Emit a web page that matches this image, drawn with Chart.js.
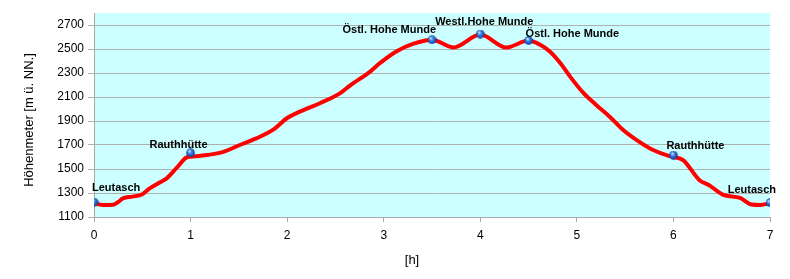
<!DOCTYPE html>
<html>
<head>
<meta charset="utf-8">
<script src="https://cdn.jsdelivr.net/npm/chart.js@4"></script>
<style>
    body {
        margin: 0;
        background: #ffffff;
    }
</style>
</head>
<body>
<canvas id="profileChart" width="790" height="279"></canvas>
<script>
// walking time [h] and elevation [m]
const hours = [
    0, 0.1, 0.2, 0.25, 0.3, 0.4, 0.5, 0.58, 0.68, 0.75, 0.86, 0.96, 1.0,
    1.17, 1.34, 1.51, 1.68, 1.86, 2.0, 2.13, 2.34, 2.55, 2.65, 2.86, 2.96,
    3.13, 3.31, 3.5, 3.72, 4.0, 4.27, 4.5, 4.62, 4.72, 4.83, 4.93, 5.07,
    5.2, 5.34, 5.48, 5.62, 5.79, 5.96, 6.0, 6.1, 6.27, 6.37, 6.51, 6.69,
    6.81, 6.9, 7.0,
];
const elevation = [
    1212, 1200, 1202, 1225, 1255, 1270, 1290, 1340, 1388, 1420, 1513, 1597, 1602,
    1616, 1643, 1700, 1755, 1830, 1925, 1978, 2048, 2132, 2195, 2312, 2382,
    2480, 2544, 2577, 2513, 2620, 2513, 2570, 2535, 2480, 2382, 2270, 2132,
    2034, 1936, 1825, 1741, 1658, 1607, 1600, 1574, 1407, 1365, 1287, 1259,
    1204, 1200, 1215,
];

// named stops along the route
const stationNames = [
    "Leutasch", "Rauthhütte", "Östl. Hohe Munde", "Westl.Hohe Munde",
    "Östl. Hohe Munde", "Rauthhütte", "Leutasch",
];
const stationHours = [0, 1, 3.5, 4, 4.5, 6, 7];
const stationElevation = [1225, 1635, 2577, 2625, 2571, 1616, 1220];

const xTicks = [0, 1, 2, 3, 4, 5, 6, 7];
const yTicks = [1100, 1300, 1500, 1700, 1900, 2100, 2300, 2500, 2700];

const FONT = "'Liberation Sans', Arial, sans-serif";

// little blue ball for the stations
const ball = document.createElement("canvas");
ball.width = 9;
ball.height = 9;
const bctx = ball.getContext("2d");
const grad = bctx.createRadialGradient(3.3, 2.8, 0.4, 4.5, 4.5, 4.5);
grad.addColorStop(0, "#d8ecff");
grad.addColorStop(0.35, "#3f86ea");
grad.addColorStop(1, "#0b3590");
bctx.fillStyle = grad;
bctx.beginPath();
bctx.arc(4.5, 4.5, 4.3, 0, Math.PI * 2);
bctx.fill();

const plotBackground = {
    id: "plotBackground",
    beforeDraw(chart) {
        const { ctx, chartArea: a } = chart;
        ctx.save();
        ctx.fillStyle = "#ccffff";
        ctx.fillRect(a.left, a.top, a.right - a.left, a.bottom - a.top);
        ctx.restore();
    },
};

// station names next to the balls: [align, dx, dy]
const labelPlacement = [
    ["left", -2, -14],
    ["center", -12, -8],
    ["right", 4, -10],
    ["center", 4, -12],
    ["left", -3, -7],
    ["left", -7, -9],
    ["right", 6, -13],
];

const stationLabels = {
    id: "stationLabels",
    afterDatasetsDraw(chart) {
        const { ctx, scales } = chart;
        ctx.save();
        ctx.font = "bold 11px " + FONT;
        ctx.fillStyle = "#000000";
        ctx.textBaseline = "middle";
        stationNames.forEach((name, i) => {
            const [align, dx, dy] = labelPlacement[i];
            const x = scales.x.getPixelForValue(stationHours[i]);
            const y = scales.y.getPixelForValue(stationElevation[i]);
            ctx.textAlign = align;
            ctx.fillText(name, x + dx, y + dy);
        });
        ctx.restore();
    },
};

const axisTitles = {
    id: "axisTitles",
    afterDraw(chart) {
        const { ctx } = chart;
        ctx.save();
        ctx.font = "13px " + FONT;
        ctx.fillStyle = "#000000";
        ctx.textAlign = "center";
        ctx.textBaseline = "middle";
        ctx.fillText("[h]", 412, 260);
        ctx.translate(29, 120);
        ctx.rotate(-Math.PI / 2);
        ctx.fillText("Höhenmeter [m ü. NN.]", 0, 0);
        ctx.restore();
    },
};

const ctx = document.getElementById("profileChart").getContext("2d");

new Chart(ctx, {
    type: "line",
    data: {
        datasets: [
            {
                label: "Stationen",
                data: stationHours.map((h, i) => ({ x: h, y: stationElevation[i] })),
                showLine: false,
                pointStyle: ball,
                pointRadius: 5,
                order: 0,
            },
            {
                label: "Höhenprofil",
                data: hours.map((h, i) => ({ x: h, y: elevation[i] })),
                borderColor: "#ff0000",
                borderWidth: 4,
                pointRadius: 0,
                cubicInterpolationMode: "monotone",
                borderJoinStyle: "round",
                borderCapStyle: "round",
                order: 1,
            },
        ],
    },
    options: {
        responsive: false,
        animation: false,
        layout: {
            padding: { top: 13, right: 20, left: 0, bottom: 0 },
        },
        plugins: {
            legend: { display: false },
            tooltip: { enabled: false },
        },
        scales: {
            x: {
                type: "linear",
                min: 0,
                max: 7,
                afterFit: (scale) => {
                    scale.height = 62;
                },
                afterBuildTicks: (scale) => {
                    scale.ticks = xTicks.map((v) => ({ value: v }));
                },
                border: { color: "#a8a8a8", width: 1 },
                grid: {
                    drawOnChartArea: false,
                    drawTicks: true,
                    tickLength: 5,
                    color: "#a8a8a8",
                },
                ticks: {
                    padding: 6,
                    color: "#000000",
                    font: { family: FONT, size: 12 },
                    maxRotation: 0,
                    callback: (v) => String(v),
                },
            },
            y: {
                type: "linear",
                min: 1100,
                max: 2800,
                afterFit: (scale) => {
                    scale.width = 94;
                },
                afterBuildTicks: (scale) => {
                    scale.ticks = yTicks.map((v) => ({ value: v }));
                },
                border: { color: "#a8a8a8", width: 1 },
                grid: {
                    color: "#b0b0b0",
                    lineWidth: 1,
                    tickLength: 6,
                },
                ticks: {
                    padding: 4,
                    color: "#000000",
                    font: { family: FONT, size: 12 },
                    callback: (v) => String(v),
                },
            },
        },
    },
    plugins: [plotBackground, stationLabels, axisTitles],
});
</script>
</body>
</html>
